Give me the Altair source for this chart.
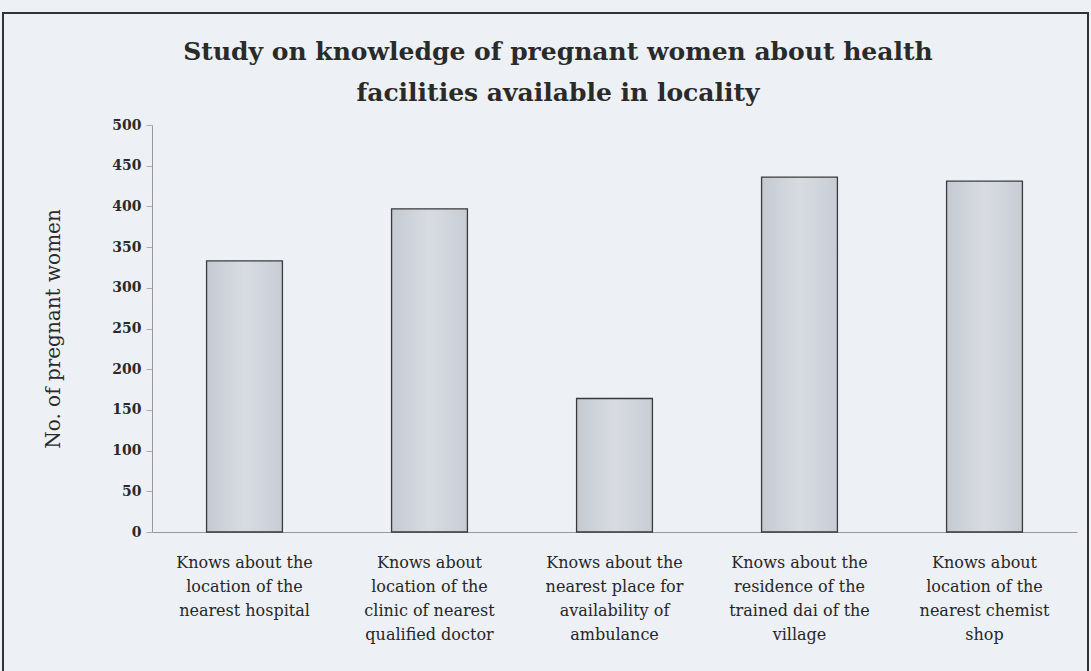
import altair as alt
import pandas as pd

categories = [
    "Knows about the|location of the|nearest hospital",
    "Knows about|location of the|clinic of nearest|qualified doctor",
    "Knows about the|nearest place for|availability of|ambulance",
    "Knows about the|residence of the|trained dai of the|village",
    "Knows about|location of the|nearest chemist|shop",
]
counts = [333, 397, 164, 436, 431]
y_ticks = [0, 50, 100, 150, 200, 250, 300, 350, 400, 450, 500]
title_lines = ["Study on knowledge of pregnant women about health",
               "facilities available in locality"]

df = pd.DataFrame({"cat": categories, "n": counts})
tdf = pd.DataFrame({"t": [0]})

FONT = "DejaVu Serif"
BG = "#edf0f5"

bar_fill = alt.Gradient(
    gradient="linear",
    x1=0, x2=1, y1=0, y2=0,
    stops=[
        alt.GradientStop(color="#c5cad2", offset=0),
        alt.GradientStop(color="#d8dce2", offset=0.5),
        alt.GradientStop(color="#c8cdd5", offset=1),
    ],
)

bars = alt.Chart(df).mark_bar(
    fill=bar_fill, stroke="#3a3a3a", strokeWidth=1.3
).encode(
    x=alt.X(
        "cat:N",
        sort=categories,
        scale=alt.Scale(paddingInner=0.59, paddingOuter=0.295),
        axis=alt.Axis(
            title=None,
            labelAngle=0,
            labelExpr="split(datum.label, '|')",
            labelFont=FONT,
            labelFontSize=16,
            labelColor="#262626",
            labelLineHeight=24,
            labelPadding=22,
            labelBaseline="top",
            ticks=False,
            domainColor="#999999",
            domainWidth=1,
            labelLimit=300,
        ),
    ),
    y=alt.Y(
        "n:Q",
        scale=alt.Scale(domain=[0, 500], nice=False),
        axis=alt.Axis(
            title="No. of pregnant women",
            values=y_ticks,
            grid=False,
            labelFont=FONT,
            labelFontSize=14,
            labelFontWeight="bold",
            labelColor="#2a2a2a",
            labelPadding=5,
            tickSize=6,
            tickColor="#aaaaaa",
            domainColor="#999999",
            titleFont=FONT,
            titleFontSize=20,
            titleFontWeight="normal",
            titleColor="#2a2a2a",
            titlePadding=48,
        ),
    ),
)

title = alt.Chart(tdf).mark_text(
    font=FONT, fontSize=25, fontWeight="bold", color="#2a2a2a",
    align="center", baseline="alphabetic", lineHeight=41,
).encode(
    x=alt.value(406), y=alt.value(-65), text=alt.value(title_lines)
)

frame = alt.Chart(tdf).mark_rect(
    fill=None, stroke="#333333", strokeWidth=2
).encode(
    x=alt.value(-149), x2=alt.value(936), y=alt.value(-112), y2=alt.value(560)
)

chart = alt.layer(frame, title, bars).properties(
    width=925,
    height=407,
    autosize=alt.AutoSizeParams(type="none"),
    padding={"left": 152, "top": 125, "right": 14, "bottom": 139},
    background=BG,
).configure_view(stroke=None)

chart.save("out.html", embed_options={"renderer": "svg", "actions": False})
